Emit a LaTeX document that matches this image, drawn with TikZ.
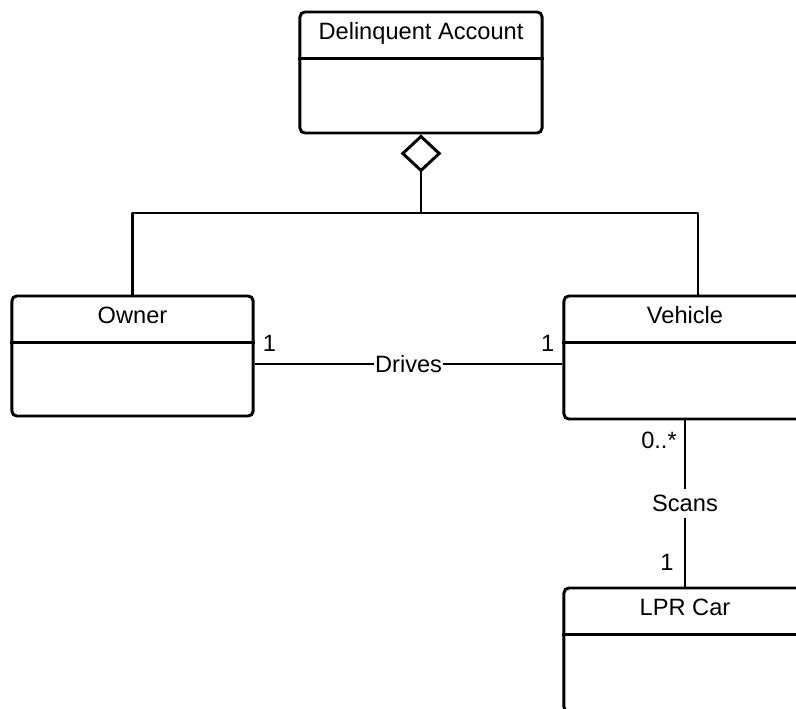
\documentclass[tikz,border=0pt]{standalone}
\usepackage{fontspec}
\setmainfont{Liberation Sans}
\usetikzlibrary{calc,arrows.meta}

\tikzset{
  classbox/.style={draw, line width=2.1pt, rounded corners=3.5pt, minimum width=6.05cm, minimum height=3.05cm, inner sep=0pt},
  classname/.style={anchor=base, inner sep=0pt},
  assoc/.style={line width=2.1pt},
  mult/.style={inner sep=0pt},
  rolename/.style={fill=white, inner xsep=1pt, inner ysep=4.5pt}
}

\begin{document}
\begin{tikzpicture}[x=0.025cm, y=-0.025cm, font=\fontsize{16.8pt}{20pt}\selectfont]
  \useasboundingbox (0,0) rectangle (796,709);
  \clip (0,0) rectangle (796,709);
  \def\hdr{1.19cm}

  % classes
  \node[classbox, minimum height=3.025cm] (acct) at (421,72.5) {};
  \node[classbox, minimum width=6.03cm, minimum height=3.0cm] (own) at (132.5,356) {};
  \node[classbox, minimum height=3.075cm] (veh) at (685,357.5) {};
  \node[classbox, minimum height=3.1cm] (lpr) at (685,650) {};

  \foreach \c/\t in {acct/Delinquent Account, own/Owner, veh/Vehicle, lpr/LPR Car}{
    \draw[assoc] ([yshift=-\hdr]\c.north west) -- ([yshift=-\hdr]\c.north east);
    \node[classname] (\c-name) at ([yshift=-0.73cm]\c.north) {\t};
  }

  % aggregation into the account
  \coordinate (hub) at (421,213);
  \coordinate (vehtop) at ([xshift=0.325cm]veh.north);
  \draw[assoc, -{Diamond[open, length=27pt, width=29pt]}] (hub) -- (acct.south);
  \draw[assoc, line join=round] (own.north) |- (hub) -| (vehtop);

  % Drives
  \coordinate (drv) at (0,364);
  \draw[assoc] (own.east |- drv) -- node[rolename] (drives) {Drives} (veh.west |- drv);
  \node[mult, anchor=base west] (m-own) at ([xshift=0.2cm, yshift=0.31cm]own.east |- drv) {1};
  \node[mult, anchor=base east] (m-veh) at ([xshift=-0.2cm, yshift=0.31cm]veh.west |- drv) {1};

  % Scans
  \draw[assoc] (veh.south) -- node[rolename] (scans) {Scans} (lpr.north);
  \node[mult, anchor=base east] (m-many) at ([xshift=-0.2cm, yshift=-0.7cm]veh.south) {0..*};
  \node[mult, anchor=base east] (m-lpr) at ([xshift=-0.28cm, yshift=0.4cm]lpr.north) {1};
\end{tikzpicture}
\end{document}
